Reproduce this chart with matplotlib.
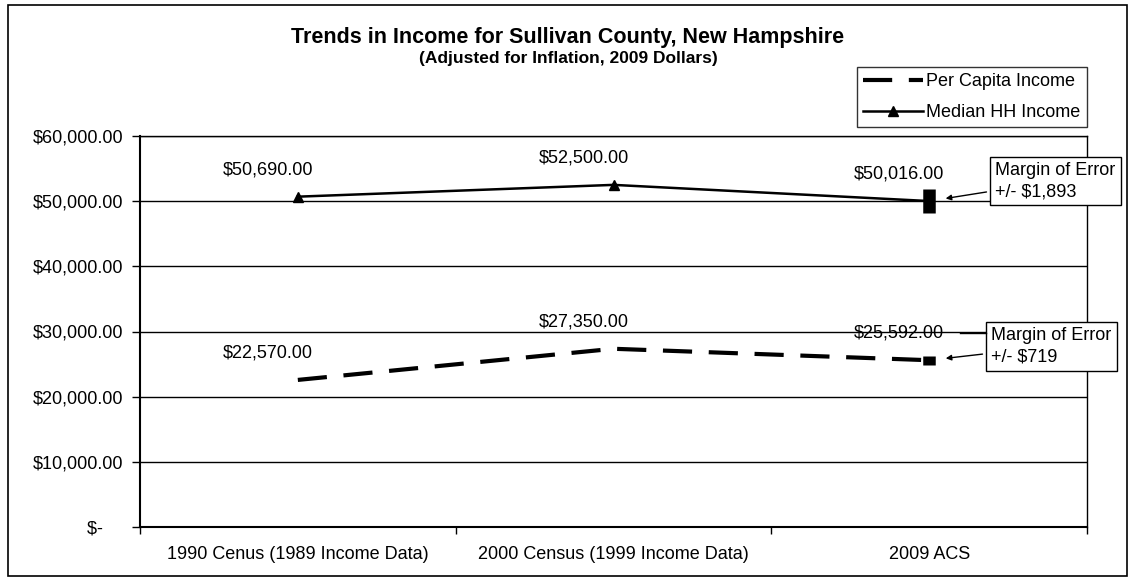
import matplotlib.pyplot as plt
from matplotlib.patches import Rectangle
from matplotlib.lines import Line2D
from matplotlib.ticker import FuncFormatter

plt.rcParams['font.family'] = ['Liberation Sans', 'DejaVu Sans']

# Data
categories = ['1990 Cenus (1989 Income Data)', '2000 Census (1999 Income Data)', '2009 ACS']
per_capita = [22570, 27350, 25592]
median_hh = [50690, 52500, 50016]
moe_per_capita = 719
moe_median = 1893
y_ticks = [0, 10000, 20000, 30000, 40000, 50000, 60000]

W, H = 1133, 579
FS = 13
fig = plt.figure(figsize=(W / 100, H / 100), dpi=100)
ax = fig.add_axes([140 / W, 1 - 527 / H, (1087 - 140) / W, (527 - 136) / H])

x = list(range(len(categories)))

# gridlines
ax.set_ylim(0, 60000)
ax.set_yticks(y_ticks)
ax.yaxis.grid(True, color='black', lw=1)
ax.set_axisbelow(True)

# lines
ax.plot(x, per_capita, color='black', lw=3, dashes=(7, 4), label='Per Capita Income')
ax.plot(x, median_hh, color='black', lw=1.8, marker='^', markersize=7, label='Median HH Income')

# margin of error bars on 2009 ACS
ax.vlines(x[2], median_hh[2] - moe_median, median_hh[2] + moe_median, color='black', lw=9)
ax.vlines(x[2], per_capita[2] - moe_per_capita, per_capita[2] + moe_per_capita, color='black', lw=9)

# data labels
for xi, v in zip(x, per_capita):
    ax.annotate(f'${v:,.2f}', (xi, v), xytext=(-30, 27), textcoords='offset pixels',
                ha='center', va='center', fontsize=FS)
for xi, v in zip(x, median_hh):
    ax.annotate(f'${v:,.2f}', (xi, v), xytext=(-30, 27), textcoords='offset pixels',
                ha='center', va='center', fontsize=FS)

# margin of error callouts
box = dict(boxstyle='square,pad=0.3', fc='white', ec='black', lw=1)
arrow = dict(arrowstyle='-|>', color='black', lw=1, mutation_scale=8, shrinkB=12)
ax.annotate(f'Margin of Error\n+/- ${moe_median:,}', (x[2], median_hh[2]),
            xytext=(66, 20), textcoords='offset pixels', ha='left', va='center',
            fontsize=FS, bbox=box, arrowprops=arrow, linespacing=1.3)
ax.annotate(f'Margin of Error\n+/- ${moe_per_capita:,}', (x[2], per_capita[2]),
            xytext=(62, 14), textcoords='offset pixels', ha='left', va='center',
            fontsize=FS, bbox=box, arrowprops=arrow, linespacing=1.3)
# leader line from the $25,592.00 label to its callout
fig.add_artist(Line2D([960 / W, 986 / W], [1 - 333 / H, 1 - 333 / H], color='black', lw=1))

# axes
ax.set_xlim(-0.5, len(categories) - 0.5)
ax.set_xticks(x)
ax.set_xticklabels(categories, fontsize=FS)
ax.set_xticks([i - 0.5 for i in range(len(categories) + 1)], minor=True)
ax.tick_params(axis='x', which='major', length=0, pad=14)
ax.tick_params(axis='x', which='minor', length=5, width=1, direction='out')
ax.tick_params(axis='y', length=6, width=1, direction='out', labelsize=FS, pad=6)
ax.yaxis.set_major_formatter(FuncFormatter(lambda v, p: '$-    ' if v == 0 else f'${v:,.2f}'))
for s in ax.spines.values():
    s.set_color('black')
    s.set_linewidth(1)
ax.spines['left'].set_linewidth(1.5)
ax.spines['bottom'].set_linewidth(1.5)

# legend
leg = ax.legend(loc='upper right', bbox_to_anchor=(1.0, (527 - 67) / (527 - 136)),
                borderaxespad=0, fancybox=False, edgecolor='black', fontsize=FS,
                handlelength=3.3, handletextpad=0.2, borderpad=0.35, labelspacing=0.75)
leg.get_frame().set_linewidth(1)

# titles
fig.text(568 / W, 1 - 38 / H, 'Trends in Income for Sullivan County, New Hampshire',
         ha='center', va='center', fontsize=15.5, fontweight='bold')
fig.text(568 / W, 1 - 58 / H, '(Adjusted for Inflation, 2009 Dollars)',
         ha='center', va='center', fontsize=12.5, fontweight='bold')

# outer chart border
fig.add_artist(Rectangle((8 / W, 1 - 576 / H), (1127 - 8) / W, (576 - 5) / H,
                         transform=fig.transFigure, fill=False, ec='black', lw=1.2))

fig.savefig('out.png', dpi=100)
